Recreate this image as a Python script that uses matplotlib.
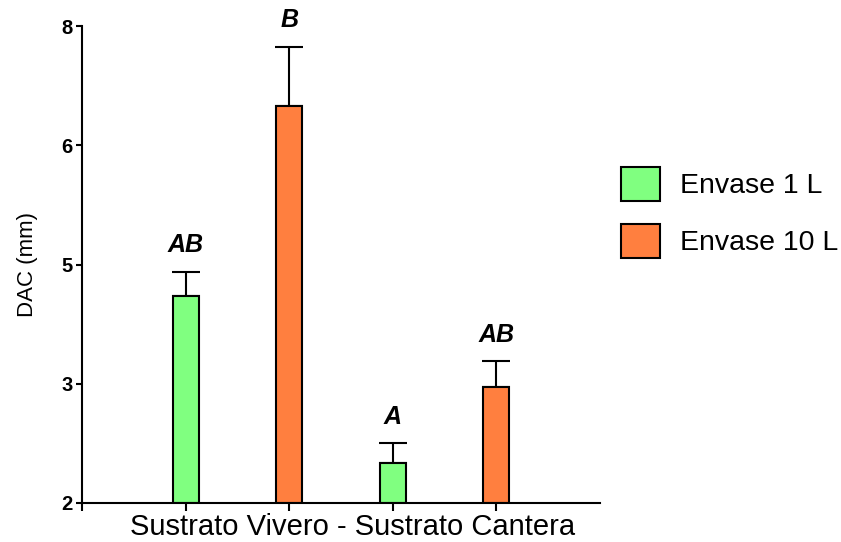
import matplotlib
matplotlib.use("Agg")
import matplotlib.pyplot as plt
from matplotlib.patches import Patch

plt.rcParams['font.family'] = ['Liberation Sans', 'DejaVu Sans']

# Bar positions along the axis (two containers per substrate)
positions = [1, 2, 3, 4]
series = ["Envase 1 L", "Envase 10 L", "Envase 1 L", "Envase 10 L"]
means = [4.61, 7.00, 2.50, 3.46]
errors = [0.30, 0.74, 0.25, 0.32]
letters = ["AB", "B", "A", "AB"]

y_ticks = [2, 3.5, 5, 6.5, 8]
y_tick_labels = ["2", "3", "5", "6", "8"]

colors = {"Envase 1 L": "#80FF80", "Envase 10 L": "#FF7F3F"}

fig = plt.figure(figsize=(8.41, 5.42), dpi=100)
ax = fig.add_axes([82/841, 39/542, 518/841, 477/542])

bar_colors = [colors[s] for s in series]
ax.bar(positions, [m - 2 for m in means], bottom=2, width=0.25,
       color=bar_colors, edgecolor="black", linewidth=1.5, zorder=2)
ax.errorbar(positions, means, yerr=[[0]*len(errors), errors], fmt="none",
            ecolor="black", elinewidth=1.5, capsize=10, capthick=1.5, zorder=1)

for x, m, e, lab in zip(positions, means, errors, letters):
    ax.annotate(lab, (x, m + e), xytext=(0, 19), textcoords="offset points",
                ha="center", va="center", fontsize=18, fontweight="bold",
                fontstyle="italic")

ax.set_xlim(0, 5)
ax.set_ylim(2, 8)
ax.set_yticks(y_ticks)
ax.set_yticklabels(y_tick_labels, fontsize=14.5, fontweight="bold")
ax.set_xticks([0] + positions)
ax.set_xticklabels([""] * 5)
ax.tick_params(axis="y", length=4.5, width=1.5, pad=2.5)
ax.tick_params(axis="x", length=6, width=1.5)

for side in ("top", "right"):
    ax.spines[side].set_visible(False)
for side in ("left", "bottom"):
    ax.spines[side].set_linewidth(1.5)

ax.set_ylabel("DAC (mm)", fontsize=16)
ax.yaxis.set_label_coords(-0.084, 0.5)
ax.set_xlabel("Sustrato Vivero - Sustrato Cantera", fontsize=21)
ax.xaxis.set_label_coords(0.522, -0.022)

handles = [Patch(facecolor=colors[k], edgecolor="black", linewidth=1.5, label=k)
           for k in ["Envase 1 L", "Envase 10 L"]]
fig.legend(handles=handles, loc="upper left", bbox_to_anchor=(595/841, 1 - 141/542),
           frameon=False, fontsize=20.5, handlelength=1.4, handleheight=1.5,
           handletextpad=0.7, labelspacing=0.78)

fig.savefig("out.png", dpi=100)
